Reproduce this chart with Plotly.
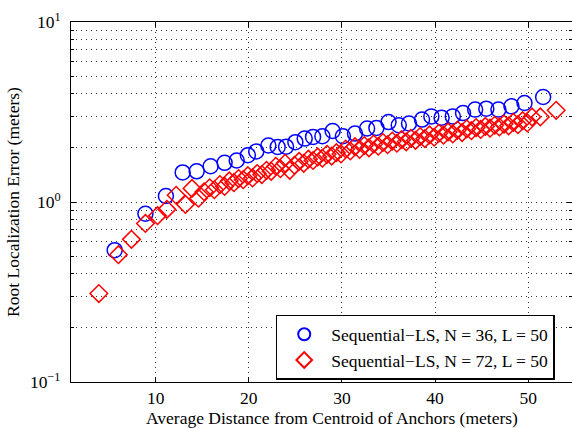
import plotly.graph_objects as go

# Sequential-LS, N = 36, L = 50
dist_n36 = [5.6, 8.9, 11.1, 12.9, 14.4, 15.9, 17.4, 18.7, 19.9, 20.8, 22.1, 23.1,
            24.0, 25.0, 26.0, 26.9, 27.9, 29.0, 30.1, 31.4, 32.7, 33.7, 35.0, 36.1,
            37.2, 38.6, 39.6, 40.7, 41.9, 43.0, 44.3, 45.5, 46.8, 48.2, 49.6, 51.6]
err_n36 = [0.54, 0.86, 1.08, 1.46, 1.48, 1.58, 1.65, 1.70, 1.82, 1.91, 2.06, 2.02,
           2.03, 2.15, 2.25, 2.30, 2.32, 2.48, 2.32, 2.40, 2.56, 2.58, 2.78, 2.67,
           2.73, 2.87, 2.99, 2.94, 2.99, 3.12, 3.26, 3.30, 3.26, 3.40, 3.55, 3.83]

# Sequential-LS, N = 72, L = 50
dist_n72 = [3.9, 6.0, 7.4, 8.9, 10.2, 11.2, 12.2, 13.2, 13.9, 14.6, 15.2, 15.8,
            16.3, 16.9, 17.4, 17.9, 18.4, 18.9, 19.4, 19.9, 20.4, 20.9, 21.4, 21.9,
            22.4, 22.9, 23.4, 23.9, 24.4, 24.9, 25.4, 25.9, 26.4, 26.9, 27.4, 27.9,
            28.4, 28.9, 29.4, 29.9, 30.4, 30.9, 31.4, 31.9, 32.4, 32.9, 33.4, 33.9,
            34.4, 34.9, 35.4, 35.9, 36.4, 36.9, 37.4, 37.9, 38.4, 38.9, 39.4, 39.9,
            40.4, 40.9, 41.4, 41.9, 42.4, 42.9, 43.4, 43.9, 44.4, 44.9, 45.4, 45.9,
            46.4, 46.9, 47.4, 47.9, 48.4, 48.9, 49.4, 49.9, 50.4, 51.3, 53.0]
err_n72 = [0.31, 0.51, 0.62, 0.76, 0.84, 0.91, 1.09, 0.97, 1.19, 1.05, 1.14, 1.20,
           1.17, 1.25, 1.22, 1.31, 1.28, 1.35, 1.33, 1.40, 1.36, 1.44, 1.42, 1.50,
           1.48, 1.58, 1.53, 1.64, 1.50, 1.60, 1.68, 1.64, 1.73, 1.70, 1.78, 1.75,
           1.84, 1.80, 1.88, 1.85, 1.97, 1.92, 2.03, 1.96, 2.06, 2.00, 2.10, 2.04,
           2.14, 2.08, 2.18, 2.12, 2.22, 2.16, 2.26, 2.20, 2.31, 2.25, 2.36, 2.29,
           2.41, 2.35, 2.45, 2.39, 2.51, 2.43, 2.55, 2.49, 2.59, 2.53, 2.63, 2.57,
           2.67, 2.61, 2.71, 2.65, 2.77, 2.69, 2.83, 2.75, 2.97, 2.97, 3.23]

x_ticks = [10, 20, 30, 40, 50]
y_ticks = [0.1, 1, 10]
y_tick_text = ["10<sup>\u22121</sup>", "10<sup>0</sup>", "10<sup>1</sup>"]
y_minor = [m * d for d in (0.1, 1) for m in range(2, 10)]

FONT = "Liberation Serif"
FS = 17.5
GRID = dict(showgrid=True, gridcolor="#333", griddash="1px,4px", gridwidth=1)

fig = go.Figure()
fig.add_trace(go.Scatter(
    x=dist_n36, y=err_n36, mode="markers",
    name="Sequential\u2212LS, N = 36, L = 50",
    marker=dict(symbol="circle-open", size=15, color="#0000ff",
                line=dict(width=1.5, color="#0000ff")),
))
fig.add_trace(go.Scatter(
    x=dist_n72, y=err_n72, mode="markers",
    name="Sequential\u2212LS, N = 72, L = 50",
    marker=dict(symbol="diamond-open", size=13.5, color="#ff0000",
                line=dict(width=1.5, color="#ff0000")),
))

fig.update_layout(
    width=572, height=428,
    margin=dict(l=71, r=0, t=22, b=46),
    paper_bgcolor="white", plot_bgcolor="white",
    font=dict(family=FONT, size=FS, color="black"),
    showlegend=True,
    legend=dict(
        x=0.9655, y=0.006, xanchor="right", yanchor="bottom",
        bgcolor="white", bordercolor="black", borderwidth=1.5,
        font=dict(family=FONT, size=FS), tracegroupgap=0,
        itemwidth=44, itemsizing="constant",
    ),
    xaxis=dict(
        range=[0.91, 54.7], tickvals=x_ticks, ticks="inside", ticklen=5,
        tickcolor="black", mirror="ticks", showline=True, linecolor="black",
        linewidth=1, zeroline=False, ticklabelstandoff=0, **GRID,
    ),
    yaxis=dict(
        type="log", range=[-1, 1], tickvals=y_ticks, ticktext=y_tick_text,
        ticks="inside", ticklen=5, tickcolor="black", mirror="ticks",
        showline=True, linecolor="black", linewidth=1, zeroline=False,
        ticklabelstandoff=6,
        title=dict(text="Root Localization Error (meters)", standoff=5,
                   font=dict(family=FONT, size=FS)),
        minor=dict(tickvals=y_minor, ticks="inside", ticklen=3,
                   tickcolor="black", **GRID),
        **GRID,
    ),
    annotations=[dict(
        text="Average Distance from Centroid of Anchors (meters)",
        xref="paper", yref="paper", x=0.52, y=-0.1,
        xanchor="center", yanchor="middle", showarrow=False,
        font=dict(family=FONT, size=FS),
    )],
)

fig.write_html("out.html")
